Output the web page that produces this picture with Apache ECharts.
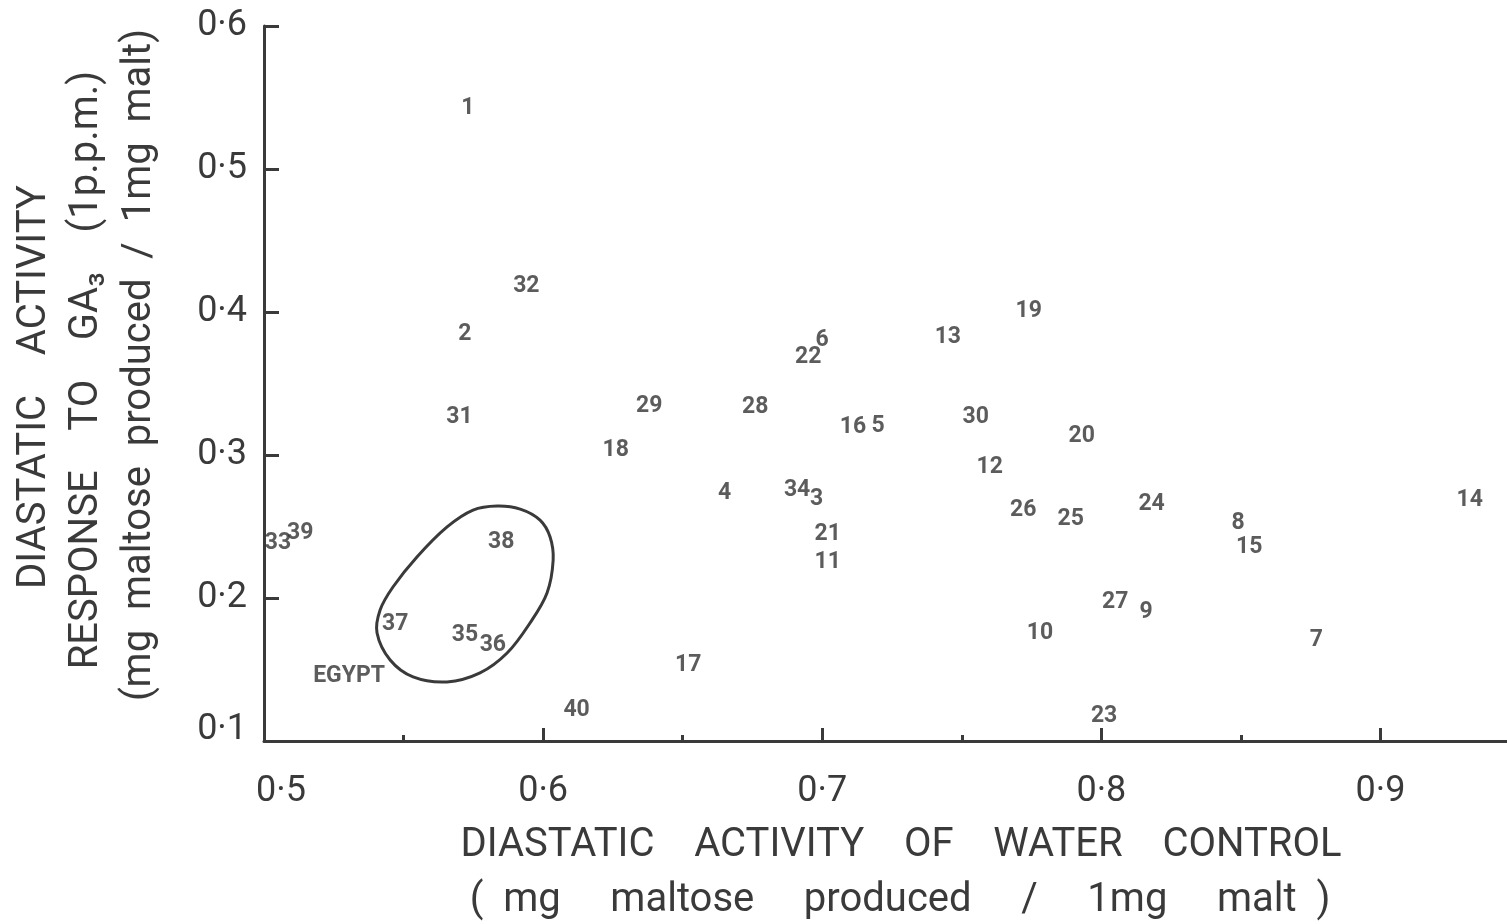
<!DOCTYPE html>
<html>
<head>
<meta charset="utf-8">
<title>Diastatic activity</title>
<script src="https://cdn.jsdelivr.net/npm/echarts@6/dist/echarts.min.js"></script>
<style>
  html, body { margin: 0; padding: 0; background: #ffffff; }
  #chart { width: 1507px; height: 924px; }
</style>
</head>
<body>
<div id="chart"></div>
<script>
// Variety numbers, plotted as their own labels
const pointIds = ['1','2','3','4','5','6','7','8','9','10',
                  '11','12','13','14','15','16','17','18','19','20',
                  '21','22','23','24','25','26','27','28','29','30',
                  '31','32','33','34','35','36','37','38','39','40'];
// Diastatic activity of water control (mg maltose / 1 mg malt)
const controlActivity = [0.573, 0.572, 0.698, 0.665, 0.720, 0.700, 0.877, 0.849, 0.816, 0.778,
                         0.702, 0.760, 0.745, 0.932, 0.853, 0.711, 0.652, 0.626, 0.774, 0.793,
                         0.702, 0.695, 0.801, 0.818, 0.789, 0.772, 0.805, 0.676, 0.638, 0.755,
                         0.570, 0.594, 0.505, 0.691, 0.572, 0.582, 0.547, 0.585, 0.513, 0.612];
// Response to GA3 at 1 p.p.m. (mg maltose / 1 mg malt)
const ga3Response = [0.543, 0.385, 0.270, 0.274, 0.321, 0.381, 0.171, 0.253, 0.191, 0.176,
                     0.226, 0.292, 0.383, 0.269, 0.236, 0.320, 0.154, 0.304, 0.401, 0.314,
                     0.245, 0.369, 0.118, 0.266, 0.256, 0.262, 0.198, 0.334, 0.335, 0.327,
                     0.327, 0.419, 0.239, 0.276, 0.175, 0.168, 0.182, 0.240, 0.246, 0.122];

// Egyptian group: outline and its label
const egyptOutlineX = [0.5835, 0.5918, 0.5989, 0.6025, 0.6036, 0.6014, 0.5953, 0.5871, 0.5774,
                       0.5656, 0.5534, 0.5452, 0.5405, 0.5416, 0.5462, 0.5548, 0.5656, 0.5749];
const egyptOutlineY = [0.2643, 0.2622, 0.2545, 0.2427, 0.2266, 0.2035, 0.1825, 0.1615, 0.1476,
                       0.1413, 0.1448, 0.1566, 0.1755, 0.1916, 0.2077, 0.2287, 0.2497, 0.2615];
const groupLabel = ['EGYPT'];
const groupLabelX = [0.5305];
const groupLabelY = [0.1462];

// Axis tick labels
const xTickLabels = ['0·5', '0·6', '0·7', '0·8', '0·9'];
const yTickLabels = ['0·1', '0·2', '0·3', '0·4', '0·5', '0·6'];

const INK = '#3a3a3a';
const FONT = 'Roboto, "DejaVu Sans", sans-serif';
const TITLE_FONT = '40px ' + FONT;

const chart = echarts.init(document.getElementById('chart'), null, { renderer: 'canvas' });

const pointData = pointIds.map((id, i) => [controlActivity[i], ga3Response[i], id]);
const groupData = groupLabel.map((t, i) => [groupLabelX[i], groupLabelY[i], t]);

const numberLabel = {
  show: true, position: 'inside', offset: [0, 1],
  formatter: (p) => p.data[2],
  color: '#333333', fontFamily: FONT, fontWeight: 'bold', fontSize: 23
};

chart.setOption({
  animation: false,
  backgroundColor: '#ffffff',
  // the x axis runs on past the right edge of the canvas
  grid: { left: 264, top: 26, width: 1256, height: 715, containLabel: false, outerBoundsMode: 'none' },
  xAxis: {
    type: 'value', min: 0.5, max: 0.95, interval: 0.1,
    axisLine: { show: true, lineStyle: { color: INK, width: 3 } },
    axisTick: { show: true, inside: true, length: 13, lineStyle: { color: INK, width: 3 } },
    minorTick: { show: true, splitNumber: 2, length: 6, lineStyle: { color: INK, width: 3 } },
    splitLine: { show: false },
    minorSplitLine: { show: false },
    axisLabel: {
      color: INK, fontFamily: FONT, fontSize: 36, margin: 33, showMaxLabel: false,
      formatter: (v) => {
        const i = Math.round((v - 0.5) / 0.1);
        const t = xTickLabels[i] || '';
        return i === 0 ? '{first|' + t + '}' : t;
      },
      rich: { first: { color: INK, fontFamily: FONT, fontSize: 36, padding: [0, 0, 0, 34] } }
    }
  },
  yAxis: {
    type: 'value', min: 0.1, max: 0.6, interval: 0.1,
    axisLine: { show: true, lineStyle: { color: INK, width: 3 } },
    axisTick: { show: true, inside: true, length: 15, lineStyle: { color: INK, width: 3 } },
    splitLine: { show: false },
    axisLabel: {
      color: INK, fontFamily: FONT, fontSize: 36, margin: 17,
      formatter: (v) => {
        const i = Math.round((v - 0.1) / 0.1);
        const t = yTickLabels[i] || '';
        return i === 0 ? '{low|' + t + '}' : t;
      },
      rich: { low: { color: INK, fontFamily: FONT, fontSize: 36, padding: [0, 0, 22, 0] } }
    }
  },
  series: [
    {
      type: 'scatter',
      data: pointData,
      symbolSize: 1,
      itemStyle: { color: 'rgba(0,0,0,0)' },
      silent: true,
      label: numberLabel
    },
    {
      type: 'scatter',
      data: groupData,
      symbolSize: 1,
      itemStyle: { color: 'rgba(0,0,0,0)' },
      silent: true,
      label: numberLabel
    },
    {
      // outline round the Egyptian varieties
      type: 'custom',
      data: [[egyptOutlineX[0], egyptOutlineY[0]]],
      silent: true,
      clip: false,
      renderItem: (params, api) => {
        const pts = egyptOutlineX.map((x, i) => api.coord([x, egyptOutlineY[i]]));
        return {
          type: 'polygon',
          shape: { points: pts, smooth: 0.35 },
          style: { fill: 'none', stroke: INK, lineWidth: 3 }
        };
      }
    }
  ],
  graphic: [
    // x-axis title
    { type: 'text', x: 901, y: 846, style: {
        text: 'DIASTATIC    ACTIVITY    OF    WATER    CONTROL',
        fill: INK, font: TITLE_FONT, align: 'center', verticalAlign: 'middle' } },
    { type: 'text', x: 900, y: 901, style: {
        text: '(  mg     maltose     produced     /     1mg     malt  )',
        fill: INK, font: TITLE_FONT, align: 'center', verticalAlign: 'middle' } },
    // y-axis title, three lines reading upwards
    { type: 'text', x: 35, y: 387, rotation: Math.PI / 2, style: {
        text: 'DIASTATIC    ACTIVITY',
        fill: INK, font: TITLE_FONT, align: 'center', verticalAlign: 'middle' } },
    { type: 'text', x: 87, y: 370, rotation: Math.PI / 2, style: {
        text: 'RESPONSE    TO    GA₃    (1p.p.m.)',
        fill: INK, font: TITLE_FONT, align: 'center', verticalAlign: 'middle' } },
    { type: 'text', x: 140, y: 365, rotation: Math.PI / 2, style: {
        text: '(mg  maltose  produced  /  1mg  malt)',
        fill: INK, font: TITLE_FONT, align: 'center', verticalAlign: 'middle' } }
  ]
});
</script>
</body>
</html>
